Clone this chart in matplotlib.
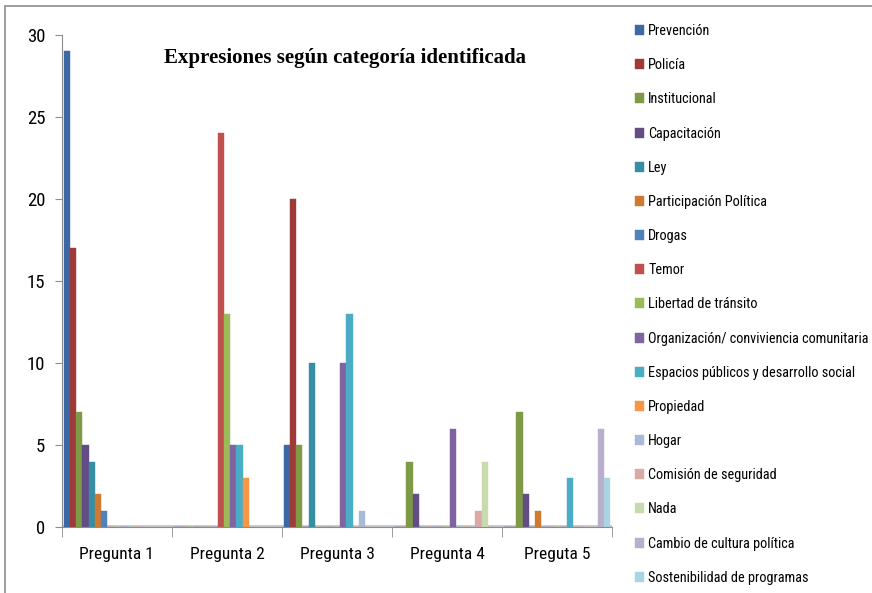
import numpy as np
import matplotlib.pyplot as plt
from matplotlib import font_manager
from matplotlib.patches import Rectangle

preguntas = ['Pregunta 1', 'Pregunta 2', 'Pregunta 3', 'Pregunta 4', 'Preguta 5']
categorias = ['Prevención', 'Policía', 'Institucional', 'Capacitación', 'Ley',
              'Participación Política', 'Drogas', 'Temor', 'Libertad de tránsito',
              'Organización/ conviviencia comunitaria',
              'Espacios públicos y desarrollo social', 'Propiedad', 'Hogar',
              'Comisión de seguridad', 'Nada', 'Cambio de cultura política',
              'Sostenibilidad de programas']
colores = ['#3c69a3', '#9e3a38', '#7e9a47', '#634d85', '#368ea4', '#d0792f',
           '#4f81bd', '#c0504d', '#9bbb59', '#8064a2', '#4bacc6', '#f79646',
           '#a9b9d8', '#dba9a8', '#c8dbaf', '#b9aecb', '#a9d4e1']

# valores por categoría (P1..P5)
prevencion = [29, 0, 5, 0, 0]
policia = [17, 0, 20, 0, 0]
institucional = [7, 0, 5, 4, 7]
capacitacion = [5, 0, 0, 2, 2]
ley = [4, 0, 10, 0, 0]
participacion = [2, 0, 0, 0, 1]
drogas = [1, 0, 0, 0, 0]
temor = [0, 24, 0, 0, 0]
libertad = [0, 13, 0, 0, 0]
organizacion = [0, 5, 10, 6, 0]
espacios = [0, 5, 13, 0, 3]
propiedad = [0, 3, 0, 0, 0]
hogar = [0, 0, 1, 0, 0]
comision = [0, 0, 0, 1, 0]
nada = [0, 0, 0, 4, 0]
cambio = [0, 0, 0, 0, 6]
sostenibilidad = [0, 0, 0, 0, 3]

series = [prevencion, policia, institucional, capacitacion, ley, participacion,
          drogas, temor, libertad, organizacion, espacios, propiedad, hogar,
          comision, nada, cambio, sostenibilidad]

# narrow font if there is one, else Liberation Sans a bit smaller
avail = {f.name for f in font_manager.fontManager.ttflist}
narrow = None
for cand in ['Liberation Sans Narrow', 'DejaVu Sans Condensed', 'Roboto Condensed',
             'Open Sans Condensed']:
    if cand in avail:
        narrow = cand
        break
if narrow:
    fam, leg_size, xt_size, yt_size, lsp = narrow, 10.3, 12.5, 13.5, 1.41
else:
    fam, leg_size, xt_size, yt_size, lsp = 'Liberation Sans', 8.6, 11.5, 12, 1.85

fig = plt.figure(figsize=(8.72, 5.93), dpi=100)
fig.patches.append(Rectangle((0.006, -0.01), 1.5, 1.0, transform=fig.transFigure,
                             fill=False, edgecolor='#8c8c8c', linewidth=1.2))
ax = fig.add_axes([0.071, 0.111, 0.631, 0.83])

n = len(series)
w = 0.057
x = np.arange(len(preguntas))
start = x - (n * w) / 2
for i, (vals, c, lab) in enumerate(zip(series, colores, categorias)):
    ax.bar(start + i * w + w / 2, vals, width=w * 0.98, color=c, label=lab,
           edgecolor=c, linewidth=0.3)

ax.set_xlim(-0.5, len(preguntas) - 0.5)
ax.set_ylim(0, 30)
ax.set_yticks(range(0, 31, 5))
ax.set_xticks(x)
ax.set_xticklabels(preguntas, fontsize=xt_size, family=fam)
ax.set_xticks(np.arange(-0.5, len(preguntas), 1), minor=True)
ax.tick_params(axis='x', which='major', length=0, pad=14)
ax.tick_params(axis='x', which='minor', length=7, color='#8c8c8c')
ax.tick_params(axis='y', length=5, color='#8c8c8c', labelsize=yt_size, pad=7)
for t in ax.get_yticklabels():
    t.set_family(fam)
for s in ['top', 'right']:
    ax.spines[s].set_visible(False)
for s in ['left', 'bottom']:
    ax.spines[s].set_color('#8c8c8c')
ax.axhline(0.08, color='#c8c8c8', linewidth=2, zorder=0)

ax.text(0.515, 0.953, 'Expresiones según categoría identificada', transform=ax.transAxes,
        ha='center', va='center', fontsize=15, fontweight='bold',
        family='Liberation Serif')

fig.legend(loc='upper left', bbox_to_anchor=(0.722, 0.969), frameon=False,
           prop={'family': fam, 'size': leg_size},
           handlelength=0.6, handleheight=0.7, handletextpad=0.3,
           labelspacing=lsp, borderaxespad=0)

fig.savefig('out.png', dpi=100)
